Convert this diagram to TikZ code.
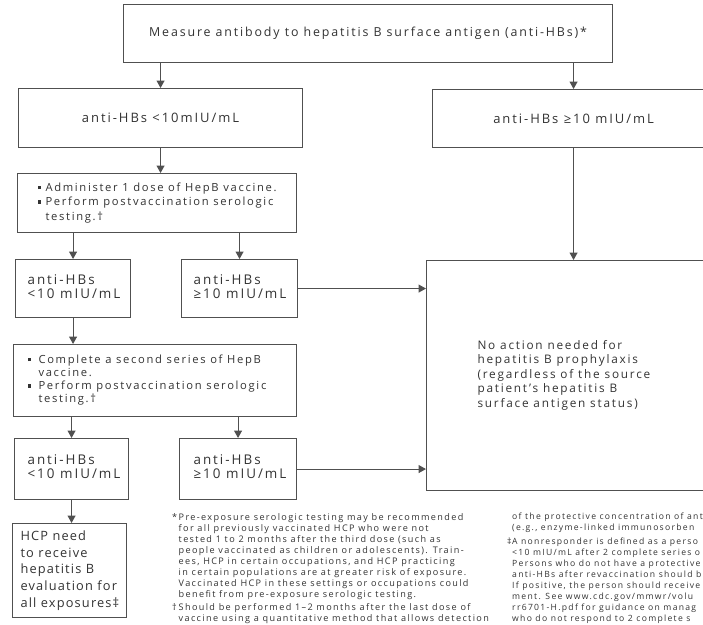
\documentclass[tikz,border=0pt]{standalone}
\usepackage{fontspec}
\setmainfont{Open Sans}[LetterSpace=15]
\usetikzlibrary{arrows.meta}
\definecolor{ink}{HTML}{333333}
\definecolor{edge}{HTML}{505050}
\newcommand\sqb[1]{\makebox[#1][l]{\rule[0.2em]{0.32em}{0.32em}}}
\newcommand\lbox[3]{\makebox[#1][l]{\hspace*{#2}\begin{tabular}{@{}l@{}}#3\end{tabular}}}
\newcommand\setfs[2]{\fontsize{#1}{#2}\selectfont}
\begin{document}
\begin{tikzpicture}[x=1pt,y=-1pt,
  box/.style={draw=edge,line width=1.1pt,rectangle,inner sep=0pt,anchor=north west,text=ink},
  arr/.style={draw=edge,line width=1.1pt,-{Triangle[width=8pt,length=7.5pt]}},
  note/.style={inner sep=0pt,anchor=base west,text=ink}]
\useasboundingbox (0,0) rectangle (703,624);
\fill[white] (0,0) rectangle (703,624);
\clip (0,0) rectangle (703,624);

\node[box,minimum width=489pt,minimum height=58pt] (top) at (123,4)
  {\setfs{12.4}{15}Measure antibody to hepatitis B surface antigen (anti-HBs)*};
\node[box,minimum width=284pt,minimum height=59pt] (L1) at (18,88)
  {\setfs{13}{15}anti-HBs <10mIU/mL};
\node[box,minimum width=282pt,minimum height=58pt] (R1) at (432,89)
  {\setfs{13}{15}anti-HBs ≥10 mIU/mL};
\node[box,minimum height=59pt] (AD) at (17,173)
  {\setfs{11.2}{14.5}\lbox{279pt}{20pt}{\sqb{8pt}Administer 1 dose of HepB vaccine.\\ \sqb{8pt}Perform postvaccination serologic\\ \hspace*{8pt}testing.†}};
\node[box,minimum height=58pt] (S1) at (15,259)
  {\setfs{13.4}{14}\lbox{115pt}{12pt}{anti-HBs\\<10 mIU/mL}};
\node[box,minimum height=58pt] (S2) at (181,259)
  {\setfs{13.4}{14}\lbox{116pt}{12pt}{anti-HBs\\≥10 mIU/mL}};
\node[box,minimum height=230pt] (NA) at (426,260)
  {\setfs{11.8}{14.5}\lbox{300pt}{51pt}{No action needed for\\ hepatitis B prophylaxis\\ (regardless of the source\\ patient’s hepatitis B\\ surface antigen status)}};
\node[box,minimum height=72pt] (CO) at (13,344)
  {\setfs{11.2}{13.2}\lbox{283pt}{14pt}{\sqb{11pt}Complete a second series of HepB\\ \hspace*{11pt}vaccine.\\ \sqb{11pt}Perform postvaccination serologic\\ \hspace*{11pt}testing.†}};
\node[box,minimum height=61pt] (T1) at (14,438)
  {\setfs{13.4}{14}\lbox{114pt}{13pt}{anti-HBs\\<10 mIU/mL}};
\node[box,minimum height=61pt] (T2) at (179,438)
  {\setfs{13.4}{14}\lbox{117pt}{14pt}{anti-HBs\\≥10 mIU/mL}};
\node[box,minimum height=94pt] (HC) at (12,523)
  {\setfs{12.8}{16.6}\addfontfeature{LetterSpace=9}\lbox{114pt}{8pt}{HCP need\\ to receive\\ hepatitis B\\ evaluation for\\ all exposures‡}};

\draw[arr] (top.south -| L1.north) -- (L1.north);
\draw[arr] (top.south -| R1.north) -- (R1.north);
\draw[arr] (L1.south) -- (L1.south |- AD.north);
\draw[arr] (AD.south -| S1.north) -- (S1.north);
\draw[arr] (AD.south -| S2.north) -- (S2.north);
\draw[arr] (S2.east) -- (S2.east -| NA.west);
\draw[arr] (R1.south) -- (R1.south |- NA.north);
\draw[arr] (S1.south) -- (S1.south |- CO.north);
\draw[arr] (CO.south -| T1.north) -- (T1.north);
\draw[arr] (CO.south -| T2.north) -- (T2.north);
\draw[arr] (T2.east) -- (T2.east -| NA.west);
\draw[arr] (T1.south) -- (T1.south |- HC.north);

\node[note] (fnL) at (172,520.6) {\setfs{9.1}{11}\begin{tabular}[t]{@{}l@{}}
\makebox[6.5pt][l]{*}Pre-exposure serologic testing may be recommended\\
\hspace*{6.5pt}for all previously vaccinated HCP who were not\\
\hspace*{6.5pt}tested 1 to 2 months after the third dose (such as\\
\hspace*{6.5pt}people vaccinated as children or adolescents). Train-\\
\hspace*{6.5pt}ees, HCP in certain occupations, and HCP practicing\\
\hspace*{6.5pt}in certain populations are at greater risk of exposure.\\
\hspace*{6.5pt}Vaccinated HCP in these settings or occupations could\\
\hspace*{6.5pt}benefit from pre-exposure serologic testing.\\[1.5pt]
\makebox[6.5pt][l]{†}Should be performed 1–2 months after the last dose of\\
\hspace*{6.5pt}vaccine using a quantitative method that allows detection
\end{tabular}};
\node[note] (fnR) at (507,519.1) {\setfs{8.6}{11}\begin{tabular}[t]{@{}l@{}}
\hspace*{5pt}of the protective concentration of ant\\
\hspace*{5pt}(e.g., enzyme-linked immunosorben\\[3pt]
\makebox[5pt][l]{‡}A nonresponder is defined as a perso\\
\hspace*{5pt}<10 mIU/mL after 2 complete series o\\
\hspace*{5pt}Persons who do not have a protective\\
\hspace*{5pt}anti-HBs after revaccination should b\\
\hspace*{5pt}If positive, the person should receive\\
\hspace*{5pt}ment. See www.cdc.gov/mmwr/volu\\
\hspace*{5pt}rr6701-H.pdf for guidance on manag\\
\hspace*{5pt}who do not respond to 2 complete s
\end{tabular}};
\end{tikzpicture}
\end{document}
